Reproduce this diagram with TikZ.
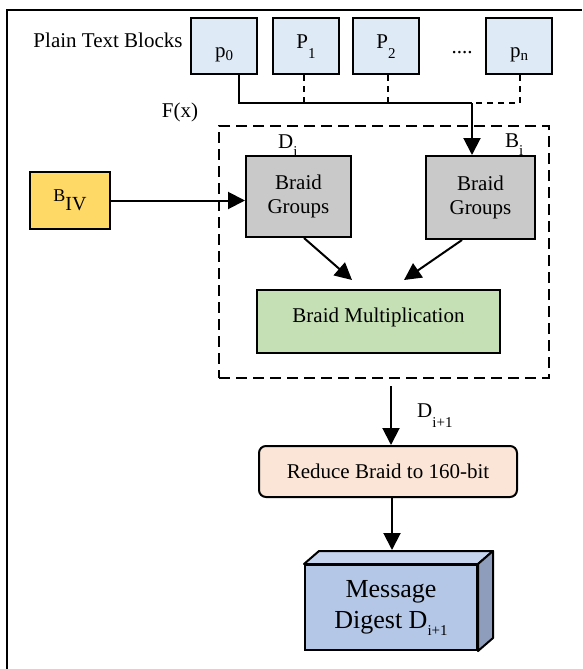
\documentclass[tikz,border=0pt]{standalone}
\usepackage{fontspec}
\setmainfont{Liberation Serif}
\usetikzlibrary{arrows.meta,calc}
\definecolor{pblue}{HTML}{DEEBF7}
\definecolor{bgray}{HTML}{C9C9C9}
\definecolor{byellow}{HTML}{FFD966}
\definecolor{bgreen}{HTML}{C5E0B4}
\definecolor{bpeach}{HTML}{FBE5D6}
\definecolor{mfront}{HTML}{B4C7E7}
\definecolor{mtop}{HTML}{C6D4EE}
\definecolor{mside}{HTML}{8E9DBC}
\newcommand\lsub[2][6pt]{\raisebox{-#1}{\fontsize{15}{15}\selectfont #2}}
\newcommand\placetxt[2]{\smash{\raisebox{-#1}{#2}}}
\begin{document}
\begin{tikzpicture}[x=1pt,y=-1pt,
  basefont/.style={font=\fontsize{21}{24}\selectfont},
  blk/.style={draw, line width=2pt, inner sep=0pt, basefont},
  pbox/.style={blk, fill=pblue, minimum width=66pt, minimum height=56pt},
  gbox/.style={blk, fill=bgray, align=center},
  arr/.style={line width=2pt, -{Triangle[length=17pt,width=17pt]}},
  conn/.style={line width=2pt},
  dconn/.style={line width=2pt, dash pattern=on 6pt off 5pt},
  lbl/.style={basefont, inner sep=0pt},
]
\useasboundingbox (0,0) rectangle (582,669);
% outer frame (only top and left edges fall inside the picture)
\draw[line width=2.2pt] (7,669) -- (7,10) -- (582,10);

% dashed F(x) region
\node[draw, line width=2pt, dash pattern=on 11pt off 6pt, minimum width=330pt, minimum height=252pt, inner sep=0pt] (fx) at (384,252) {};

% plain text blocks
\node[lbl, anchor=base] (ptb) at (108,48) {Plain Text Blocks};
\node[pbox] (p0) at (224,46) {\placetxt{11.5pt}{p\lsub[2.5pt]{0}}};
\node[pbox] (p1) at (306,46) {\placetxt{2pt}{P\lsub[11pt]{1}}};
\node[pbox] (p2) at (386,46) {\placetxt{2pt}{P\lsub[11pt]{2}}};
\node[lbl, anchor=base] (dots) at (462,53) {....};
\node[pbox] (pn) at (519,46) {\placetxt{11.5pt}{p\lsub[2.5pt]{n}}};

\node[lbl, anchor=base] (fxl) at (180,117) {F(x)};

% braid groups
\node[gbox, minimum width=105pt, minimum height=81pt] (lb) at (298.5,196.5) {Braid\\Groups};
\node[gbox, minimum width=109pt, minimum height=83pt] (rb) at (480.5,197.5) {Braid\\Groups};
\node[lbl, anchor=base west] (di) at (278,148) {D\lsub[8pt]{i}};
\node[lbl, anchor=base west] (bi) at (505,147) {B\lsub[8pt]{i}};

\node[blk, fill=byellow, minimum width=80pt, minimum height=57pt] (biv) at (70,200.5) {{\fontsize{18}{18}\selectfont B}\raisebox{-9pt}{\fontsize{20}{20}\selectfont IV}};

\node[blk, fill=bgreen, minimum width=243pt, minimum height=63pt, text height=14.5pt, text depth=13.5pt] (bm) at (378.5,321.5) {Braid Multiplication};

% reduce
\node[blk, fill=bpeach, rounded corners=7pt, minimum width=258pt, minimum height=51pt] (red) at (388,471.5) {Reduce Braid to 160-bit};
\node[lbl, anchor=base west] (dnext) at (417,417) {D\lsub[10pt]{i+1}};

% message digest cuboid
\node[blk, fill=mfront, minimum width=172pt, minimum height=85pt, font=\fontsize{26}{31}\selectfont, align=center, yshift=-3pt] (md) at (391,604.5) {Message\\Digest D\lsub[7pt]{i+1}};
\filldraw[fill=mtop, line width=2pt, line join=round] (md.north west) -- ++(15,-13) -- ($(md.north east)+(15,-13)$) -- (md.north east) -- cycle;
\filldraw[fill=mside, line width=2pt, line join=round] (md.north east) -- ++(15,-13) -- ($(md.south east)+(15,-13)$) -- (md.south east) -- cycle;

% connectors
\coordinate (J) at (472,103);
\draw[conn] ([xshift=15pt]p0.south) |- (J);
\draw[dconn] ([xshift=-2pt]p1.south) -- ([xshift=-2pt]p1.south |- J);
\draw[dconn] ([xshift=2pt]p2.south) -- ([xshift=2pt]p2.south |- J);
\draw[dconn] ([xshift=1pt]pn.south) |- (J);
\draw[arr] (J) -- (J |- rb.north);
\draw[arr] (biv.east) -- (biv.east -| lb.west);
\draw[arr] ([xshift=5.5pt]lb.south) -- ($(bm.north)+(-26.5,-9)$);
\draw[arr] ([xshift=-18.5pt]rb.south) -- ($(bm.north)+(25.5,-9)$);
\draw[arr] ([xshift=7pt,yshift=-7pt]fx.south) -- ([xshift=7pt]fx.south |- red.north);
\draw[arr] ([xshift=4pt]red.south) -- ([xshift=1pt,yshift=14pt]md.north);
\end{tikzpicture}
\end{document}
